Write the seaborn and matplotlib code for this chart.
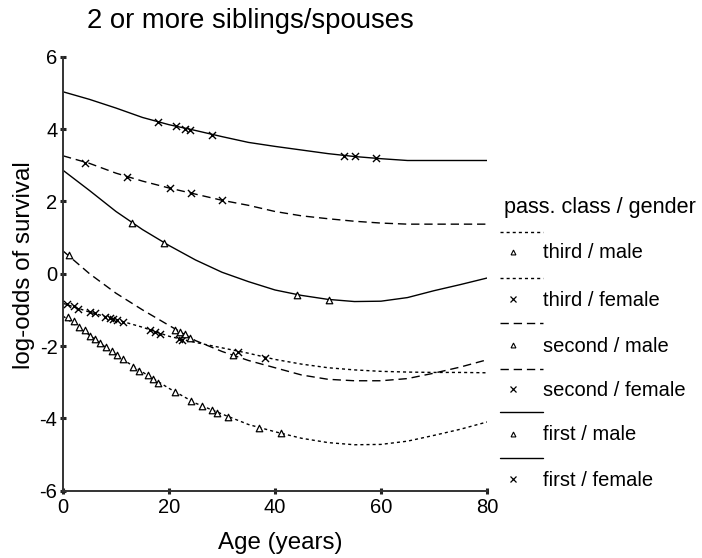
import matplotlib
matplotlib.use("Agg")
import matplotlib.pyplot as plt
import numpy as np
import pandas as pd
import seaborn as sns
from matplotlib.lines import Line2D

sns.set_theme(style="white")
plt.rcParams["font.family"] = ["Liberation Sans", "DejaVu Sans"]
plt.rcParams["text.color"] = "black"
plt.rcParams["xtick.color"] = "black"
plt.rcParams["ytick.color"] = "black"

# Fitted log-odds curves on an age grid
age_grid = [0, 5, 10, 15, 20, 25, 30, 35, 40, 45, 50, 55, 60, 65, 70, 75, 80]
fit_first_female = [5.03, 4.82, 4.58, 4.32, 4.12, 3.96, 3.79, 3.63, 3.52, 3.42,
                    3.32, 3.24, 3.18, 3.13, 3.13, 3.13, 3.13]
fit_second_female = [3.26, 3.05, 2.78, 2.56, 2.37, 2.20, 2.03, 1.89, 1.72, 1.60,
                     1.52, 1.45, 1.40, 1.37, 1.37, 1.37, 1.37]
fit_first_male = [2.86, 2.30, 1.72, 1.22, 0.78, 0.38, 0.04, -0.22, -0.45, -0.60,
                  -0.71, -0.77, -0.76, -0.66, -0.47, -0.30, -0.12]
fit_second_male = [0.63, 0.00, -0.54, -1.00, -1.43, -1.85, -2.15, -2.40, -2.60,
                   -2.80, -2.92, -2.96, -2.96, -2.90, -2.75, -2.58, -2.38]
fit_third_female = [-0.82, -1.06, -1.27, -1.48, -1.73, -1.90, -2.05, -2.20, -2.37,
                    -2.50, -2.60, -2.66, -2.70, -2.72, -2.73, -2.73, -2.74]
fit_third_male = [-1.17, -1.70, -2.25, -2.72, -3.17, -3.58, -3.88, -4.17, -4.37,
                  -4.55, -4.67, -4.73, -4.72, -4.63, -4.47, -4.30, -4.10]

# Observed passengers (age, fitted log-odds)
obs_first_female_age = [18.0, 21.3, 23.1, 24.0, 28.2, 53.0, 55.1, 59.0]
obs_first_female_lo = [4.19, 4.08, 4.00, 3.98, 3.83, 3.26, 3.25, 3.19]
obs_second_female_age = [4.2, 12.1, 20.2, 24.1, 30.0]
obs_second_female_lo = [3.07, 2.68, 2.36, 2.23, 2.03]
obs_first_male_age = [13.1, 19.1, 44.1, 50.2]
obs_first_male_lo = [1.40, 0.86, -0.58, -0.72]
obs_second_male_age = [1.1, 21.1, 22.1, 23.0, 24.0, 32.0]
obs_second_male_lo = [0.52, -1.55, -1.60, -1.68, -1.77, -2.26]
obs_third_female_age = [0.7, 2.0, 2.9, 5.1, 6.0, 7.9, 8.9, 9.5, 10.1, 11.4,
                        16.4, 17.4, 18.3, 21.8, 22.4, 33.1, 38.1]
obs_third_female_lo = [-0.84, -0.90, -0.97, -1.07, -1.10, -1.20, -1.23, -1.25, -1.27,
                       -1.34, -1.57, -1.62, -1.66, -1.80, -1.82, -2.16, -2.33]
obs_third_male_age = [1.0, 2.1, 3.0, 4.2, 5.1, 6.0, 7.0, 8.1, 9.2, 10.1, 11.3,
                      13.3, 14.4, 16.1, 17.0, 18.0, 21.1, 24.1, 26.2, 28.1, 29.1,
                      31.2, 37.0, 41.1]
obs_third_male_lo = [-1.20, -1.32, -1.46, -1.57, -1.71, -1.80, -1.91, -2.03, -2.14,
                     -2.26, -2.35, -2.57, -2.68, -2.79, -2.90, -3.03, -3.27, -3.53,
                     -3.66, -3.78, -3.85, -3.96, -4.26, -4.41]

short_dash = (0, (2.2, 2.2))
long_dash = (0, (6, 3.5))

groups = [
    ("third / male", fit_third_male, obs_third_male_age, obs_third_male_lo, short_dash, "^"),
    ("third / female", fit_third_female, obs_third_female_age, obs_third_female_lo, short_dash, "x"),
    ("second / male", fit_second_male, obs_second_male_age, obs_second_male_lo, long_dash, "^"),
    ("second / female", fit_second_female, obs_second_female_age, obs_second_female_lo, long_dash, "x"),
    ("first / male", fit_first_male, obs_first_male_age, obs_first_male_lo, "-", "^"),
    ("first / female", fit_first_female, obs_first_female_age, obs_first_female_lo, "-", "x"),
]

W, H = 702, 558
fig = plt.figure(figsize=(W / 100, H / 100), dpi=100)
ax = fig.add_axes([63 / W, 1 - 490.7 / H, (487 - 63) / W, (490.7 - 56.7) / H])

for name, fit, oa, ol, ls, mk in groups:
    curve = pd.DataFrame({"age": age_grid, "lo": fit})
    sns.lineplot(data=curve, x="age", y="lo", ax=ax, color="black",
                 linewidth=1.0, linestyle=ls, legend=False)
    pts = pd.DataFrame({"age": oa, "lo": ol})
    if mk == "^":
        sns.scatterplot(data=pts, x="age", y="lo", ax=ax, marker="^", s=22,
                        facecolor="white", edgecolor="black", linewidth=0.9,
                        legend=False, zorder=3)
    else:
        sns.scatterplot(data=pts, x="age", y="lo", ax=ax, marker="x", s=26,
                        color="black", linewidth=1.0, legend=False, zorder=3)

ax.set_xlim(0, 80)
ax.set_ylim(-6, 6)
ax.set_xticks([0, 20, 40, 60, 80])
ax.set_yticks([-6, -4, -2, 0, 2, 4, 6])
ax.set_yticklabels(["-6", "-4", "-2", "0", "2", "4", "6"])
for side in ("top", "right"):
    ax.spines[side].set_visible(False)
for side in ("left", "bottom"):
    ax.spines[side].set_color("#333333")
    ax.spines[side].set_linewidth(1.4)
ax.tick_params(axis="both", which="major", bottom=True, left=True,
               direction="inout", length=4, width=2.2, color="#222222",
               labelsize=14.5)
ax.tick_params(axis="x", pad=3.5)
ax.tick_params(axis="y", pad=2)
ax.set_xlabel("")
ax.set_ylabel("")
ax.set_facecolor("white")

fig.text(87 / W, 1 - 28 / H, "2 or more siblings/spouses", fontsize=19.8,
         ha="left", va="baseline")
fig.text(280 / W, 1 - 543 / H, "Age (years)", fontsize=17.4, ha="center", va="center")
fig.text(24 / W, 1 - 265 / H, "log-odds of survival", fontsize=17.4, ha="center",
         va="center", rotation=90)

# Legend drawn on an overlay in pixel coordinates
lax = fig.add_axes([0, 0, 1, 1], facecolor="none")
lax.set_xlim(0, W)
lax.set_ylim(H, 0)
lax.axis("off")
lax.text(504, 207, "pass. class / gender", fontsize=15.6, ha="left", va="center")
line_rows = [232, 278, 323, 369, 412, 458]
label_rows = [253, 300, 346, 390, 435, 480]
for (name, fit, oa, ol, ls, mk), ly, ty in zip(groups, line_rows, label_rows):
    lax.add_line(Line2D([500, 543], [ly, ly], color="black", linewidth=1.0, linestyle=ls))
    if mk == "^":
        lax.plot([513], [ty - 1], marker="^", markersize=3.5, markerfacecolor="white",
                 markeredgecolor="black", markeredgewidth=0.8, linestyle="none")
    else:
        lax.plot([513], [ty - 1], marker="x", markersize=4, color="black",
                 markeredgewidth=0.9, linestyle="none")
    lax.text(543, ty, name, fontsize=14.5, ha="left", va="center")

fig.savefig("out.png", dpi=100, facecolor="white")
